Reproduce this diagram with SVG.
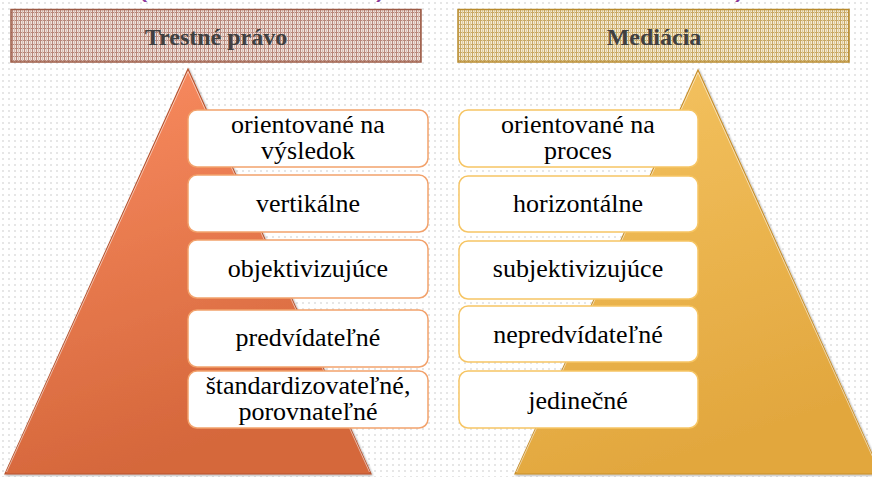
<svg xmlns="http://www.w3.org/2000/svg" width="872" height="477" viewBox="0 0 872 477">
<defs>
<pattern id="dots" width="6" height="6" patternUnits="userSpaceOnUse">
<rect width="6" height="6" fill="#ffffff"/>
<rect x="2" y="2" width="2" height="2" fill="#e6e6e6"/>
</pattern>
<pattern id="plaidL" width="4" height="4" patternUnits="userSpaceOnUse">
<rect width="4" height="4" fill="#efe2dc"/>
<rect width="1" height="4" fill="#b8877a"/>
<rect width="4" height="1" fill="#b8877a"/>
<rect x="2" width="1" height="4" fill="#d8bdb3"/>
</pattern>
<pattern id="plaidR" width="4" height="4" patternUnits="userSpaceOnUse">
<rect width="4" height="4" fill="#f3ead6"/>
<rect width="1" height="4" fill="#c8a864"/>
<rect width="4" height="1" fill="#c8a864"/>
<rect x="2" width="1" height="4" fill="#e0cc9c"/>
</pattern>
<linearGradient id="gL" x1="0" y1="0" x2="0.3" y2="1">
<stop offset="0" stop-color="#fb8d62"/>
<stop offset="1" stop-color="#d5673b"/>
</linearGradient>
<linearGradient id="gR" x1="0" y1="0" x2="0.3" y2="1">
<stop offset="0" stop-color="#f5c462"/>
<stop offset="1" stop-color="#e2a73e"/>
</linearGradient>
<filter id="sh" x="-10%" y="-10%" width="120%" height="120%">
<feDropShadow dx="1" dy="1" stdDeviation="1" flood-color="#000" flood-opacity="0.35"/>
</filter>
</defs>
<style>
.hdr{font-family:"Liberation Serif",serif;font-weight:bold;font-size:24px;fill:#404040;text-anchor:middle}
.t{font-family:"Liberation Serif",serif;font-size:26px;fill:#000;text-anchor:middle}
.bl{fill:#fff;stroke:#f2a26c;stroke-width:1.5}
.br{fill:#fff;stroke:#f6c564;stroke-width:1.5}
.ttl{font-family:"Liberation Sans",sans-serif;font-size:34px;fill:#8c3a9a}
</style>
<rect width="872" height="477" fill="url(#dots)"/>
<g id="title-fragments">
<text class="ttl" x="136" y="-5">(</text>
<text class="ttl" x="376" y="-5">)</text>
<text class="ttl" x="735" y="-5">)</text>
</g>
<g id="header-left">
<rect x="11" y="9.5" width="410" height="52.5" fill="url(#plaidL)" stroke="#9c5a44" stroke-width="1.5"/>
<text class="hdr" x="216" y="45">Trestné právo</text>
</g>
<g id="header-right">
<rect x="458" y="9.5" width="391" height="52.5" fill="url(#plaidR)" stroke="#b88a2c" stroke-width="1.5"/>
<text class="hdr" x="654" y="45">Mediácia</text>
</g>
<g id="pyramid-left">
<polygon points="188,69 371,474 5,474" fill="url(#gL)" stroke="#b85430" stroke-width="1.2" filter="url(#sh)"/>
<polyline points="6.5,472 188,71.5 369.5,472" fill="none" stroke="#ffffff" stroke-width="0.8" stroke-opacity="0.7"/>
</g>
<g id="pyramid-right">
<polygon points="698,70 881,474 515,474" fill="url(#gR)" stroke="#c8902c" stroke-width="1.2" filter="url(#sh)"/>
<polyline points="516.5,472 698,72.5 879.5,472" fill="none" stroke="#ffffff" stroke-width="0.8" stroke-opacity="0.7"/>
</g>
<g id="left-box-1"><rect class="bl" x="188" y="110" width="240" height="57" rx="9"/><text class="t" x="308" y="133">orientované na</text><text class="t" x="308" y="159">výsledok</text></g>
<g id="left-box-2"><rect class="bl" x="188" y="175" width="240" height="57" rx="9"/><text class="t" x="308" y="212">vertikálne</text></g>
<g id="left-box-3"><rect class="bl" x="188" y="240" width="240" height="58" rx="9"/><text class="t" x="308" y="277">objektivizujúce</text></g>
<g id="left-box-4"><rect class="bl" x="188" y="310" width="240" height="57" rx="9"/><text class="t" x="308" y="346">predvídateľné</text></g>
<g id="left-box-5"><rect class="bl" x="188" y="371" width="240" height="57" rx="9"/><text class="t" x="308" y="394">štandardizovateľné,</text><text class="t" x="308" y="420">porovnateľné</text></g>
<g id="right-box-1"><rect class="br" x="459" y="110" width="239" height="57" rx="9"/><text class="t" x="578" y="133">orientované na</text><text class="t" x="578" y="159">proces</text></g>
<g id="right-box-2"><rect class="br" x="459" y="176" width="239" height="56" rx="9"/><text class="t" x="578" y="212">horizontálne</text></g>
<g id="right-box-3"><rect class="br" x="459" y="241" width="239" height="58" rx="9"/><text class="t" x="578" y="277">subjektivizujúce</text></g>
<g id="right-box-4"><rect class="br" x="459" y="306" width="239" height="56" rx="9"/><text class="t" x="578" y="343">nepredvídateľné</text></g>
<g id="right-box-5"><rect class="br" x="459" y="371" width="239" height="57" rx="9"/><text class="t" x="578" y="409">jedinečné</text></g>
<g id="connectors"></g>
</svg>
